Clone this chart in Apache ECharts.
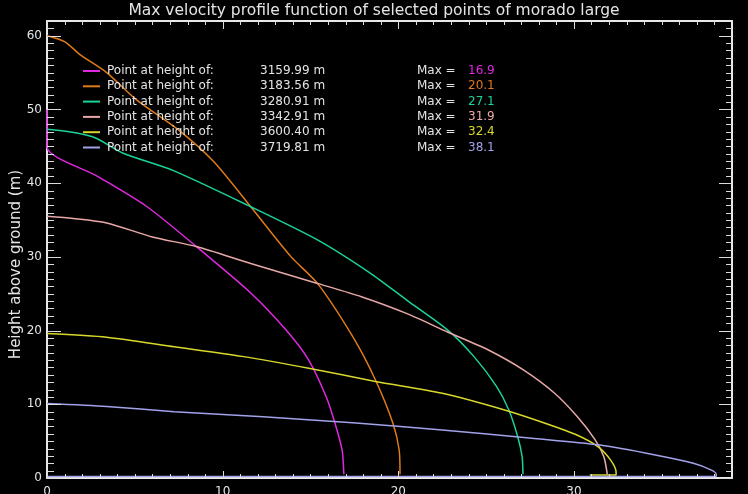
<!DOCTYPE html>
<html>
<head>
<meta charset="utf-8">
<script src="https://cdn.jsdelivr.net/npm/echarts@6/dist/echarts.min.js"></script>
<style>
html,body{margin:0;padding:0;background:#000;}
#chart{width:748px;height:494px;}
</style>
</head>
<body>
<div id="chart"></div>
<script>
// ---- data ----
var titleText = 'Max velocity profile function of selected points of morado large';
var yAxisName = 'Height above ground (m)';
var pointHeights = ['3159.99', '3183.56', '3280.91', '3342.91', '3600.40', '3719.81'];
var maxValues = ['16.9', '20.1', '27.1', '31.9', '32.4', '38.1'];
var seriesColors = ['#e028e0', '#e07a1a', '#1ad29a', '#e8a8a8', '#d8d82c', '#a2a2ea'];
var xMax = 39, yMax = 62;
var xMajorTicks = [0, 10, 20, 30];
var yMajorTicks = [0, 10, 20, 30, 40, 50, 60];
var xMinorStep = 1, yMinorStep = 1;

// [velocity, height] pairs
var profile1 = [[0,50],[0,44.9],[2.9,40.9],[5.7,36.8],[8.5,31.4],[11.6,25.1],[13.6,20.1],[14.9,16.0],[15.9,11.0],[16.4,7.4],[16.8,3.8],[16.9,0.5]];
var profile2 = [[0,60],[1.0,59.2],[1.9,57.4],[3.4,55.0],[5.1,51.3],[7.5,47.2],[9.5,42.9],[11.6,36.8],[13.9,30.0],[15.4,26.4],[17.4,19.2],[18.7,13.3],[19.7,7.4],[20.05,3.8],[20.1,0.5]];
var profile3 = [[0,47.3],[1.7,46.8],[2.8,46.1],[4.3,44.1],[7.2,41.7],[11.6,36.8],[15.4,32.3],[18.4,27.8],[20.5,24.1],[22.8,20.1],[24.3,16.5],[25.6,12.4],[26.3,9.2],[26.8,5.6],[27.05,2.9],[27.1,0.5]];
var profile4 = [[0,35.5],[1.5,35.2],[3.4,34.6],[6.0,32.7],[8.5,31.4],[11.6,29.1],[15.4,26.4],[17.9,24.6],[20.5,22.3],[22.8,19.8],[25.1,17.4],[27.1,14.7],[28.9,11.5],[30.2,8.3],[31.2,5.2],[31.7,2.9],[31.9,0.5]];
var profile5 = [[0,19.6],[3.4,19.1],[7.25,17.8],[11.1,16.5],[14.9,14.9],[18.7,13.1],[22.5,11.5],[26.1,9.2],[28.4,7.4],[30.2,5.8],[31.4,4.2],[32.1,2.4],[32.4,0.8],[32.4,0.4],[30.9,0.4]];
var profile6 = [[0,10.1],[3.4,9.7],[7.25,9.0],[12.3,8.3],[17.4,7.5],[22.5,6.5],[27.6,5.4],[31.4,4.5],[34.7,3.1],[36.8,2.0],[37.8,1.1],[38.1,0.5],[38.1,0.2],[0,0.2]];
var profiles = [profile1, profile2, profile3, profile4, profile5, profile6];

var FONT = 'DejaVu Sans';
var TXT = '#e4e4e4';
var TICK = '#dcdcdc';
var tickLen = { xMajorBottom: 7, xMajorTop: 8, xMinor: 4, yMajorLeft: 14, yMajorRight: 13, yMinorLeft: 7, yMinorRight: 6 };

// tick positions on the axis scales (every minor step, major flag)
var xTickData = [], yTickData = [];
for (var xv = 0; xv < xMax; xv += xMinorStep) xTickData.push([xv, 0, xMajorTicks.indexOf(xv) >= 0 ? 1 : 0]);
for (var yv = 0; yv < yMax; yv += yMinorStep) yTickData.push([0, yv, yMajorTicks.indexOf(yv) >= 0 ? 1 : 0]);

function frameAxis(dim, pos) {
  var isX = dim === 'x';
  var labelled = (pos === 'bottom' || pos === 'left');
  var d = {
    type: 'value', position: pos, min: 0, max: isX ? xMax : yMax,
    interval: 10,
    axisLine: { show: true, onZero: false, lineStyle: { color: '#e8e8e8', width: 2 } },
    axisTick: { show: false },
    axisLabel: {
      show: labelled, margin: isX ? 8 : 5, color: TXT, fontFamily: FONT, fontSize: 12,
      showMaxLabel: false, showMinLabel: true, hideOverlap: false
    },
    splitLine: { show: false }
  };
  if (!isX && pos === 'left') {
    d.name = yAxisName;
    d.nameLocation = 'middle';
    d.nameRotate = 90;
    d.nameGap = 23;
    d.nameMoveOverlap = false;
    d.nameTextStyle = { color: TXT, fontFamily: FONT, fontSize: 15, padding: [0, 30, 0, 0] };
  }
  return d;
}

function tickLine(x1, y1, x2, y2) {
  return { type: 'line', shape: { x1: x1, y1: y1, x2: x2, y2: y2 }, style: { stroke: TICK, lineWidth: 1 } };
}
function renderXTicks(params, api) {
  var v = api.value(0), major = api.value(2);
  var b = api.coord([v, 0]);
  var t = api.coord([v, yMax]);
  var x = Math.round(b[0]) + 0.5;
  var lb = major ? tickLen.xMajorBottom : tickLen.xMinor;
  var lt = major ? tickLen.xMajorTop : tickLen.xMinor;
  return { type: 'group', children: [tickLine(x, b[1], x, b[1] - lb), tickLine(x, t[1], x, t[1] + lt)] };
}
function renderYTicks(params, api) {
  var v = api.value(1), major = api.value(2);
  var l = api.coord([0, v]);
  var r = api.coord([xMax, v]);
  var y = Math.round(l[1]) + 0.5;
  var ll = major ? tickLen.yMajorLeft : tickLen.yMinorLeft;
  var lr = major ? tickLen.yMajorRight : tickLen.yMinorRight;
  return { type: 'group', children: [tickLine(l[0], y, l[0] + ll, y), tickLine(r[0], y, r[0] - lr, y)] };
}

var rich = {
  a: { width: 153, padding: [0, 0, 0, 2], color: TXT, fontFamily: FONT, fontSize: 12, lineHeight: 12 },
  b: { width: 157, color: TXT, fontFamily: FONT, fontSize: 12, lineHeight: 12 },
  c: { width: 51, color: TXT, fontFamily: FONT, fontSize: 12, lineHeight: 12 }
};
seriesColors.forEach(function (c, i) {
  rich['v' + i] = { color: c, fontFamily: FONT, fontSize: 12, lineHeight: 12 };
});

var lineSeries = profiles.map(function (p, i) {
  return {
    name: pointHeights[i] + ' m',
    type: 'line',
    data: p,
    symbol: 'none',
    smooth: 0.25,
    clip: false,
    color: seriesColors[i],
    lineStyle: { color: seriesColors[i], width: 1.5 },
    xAxisIndex: 0, yAxisIndex: 0,
    z: 3
  };
});

var tickSeries = [
  { type: 'custom', name: 'xticks', data: xTickData, renderItem: renderXTicks, encode: { x: 0, y: 1 },
    xAxisIndex: 0, yAxisIndex: 0, clip: false, silent: true, z: 4 },
  { type: 'custom', name: 'yticks', data: yTickData, renderItem: renderYTicks, encode: { x: 0, y: 1 },
    xAxisIndex: 0, yAxisIndex: 0, clip: false, silent: true, z: 4 }
];

var chart = echarts.init(document.getElementById('chart'), null, { renderer: 'canvas' });
chart.setOption({
  backgroundColor: '#000',
  animation: false,
  title: {
    text: titleText, left: 'center', top: -2,
    textStyle: { color: TXT, fontFamily: FONT, fontSize: 15.5, fontWeight: 'normal' }
  },
  grid: { left: 47, right: 16, top: 21, bottom: 16, containLabel: false, outerBoundsMode: 'none' },
  xAxis: [frameAxis('x', 'bottom'), frameAxis('x', 'top')],
  yAxis: [frameAxis('y', 'left'), frameAxis('y', 'right')],
  legend: {
    orient: 'vertical', left: 83, top: 65, padding: 0,
    itemWidth: 17, itemHeight: 2, itemGap: 3.3,
    icon: 'rect',
    selectedMode: false,
    data: lineSeries.map(function (s) { return s.name; }),
    textStyle: { color: TXT, fontFamily: FONT, fontSize: 12, lineHeight: 12, rich: rich },
    formatter: function (name) {
      var i = lineSeries.findIndex(function (s) { return s.name === name; });
      return '{a|Point at height of:}{b|' + pointHeights[i] + ' m}{c|Max =}{v' + i + '|' + maxValues[i] + '}';
    }
  },
  series: lineSeries.concat(tickSeries)
});
</script>
</body>
</html>
